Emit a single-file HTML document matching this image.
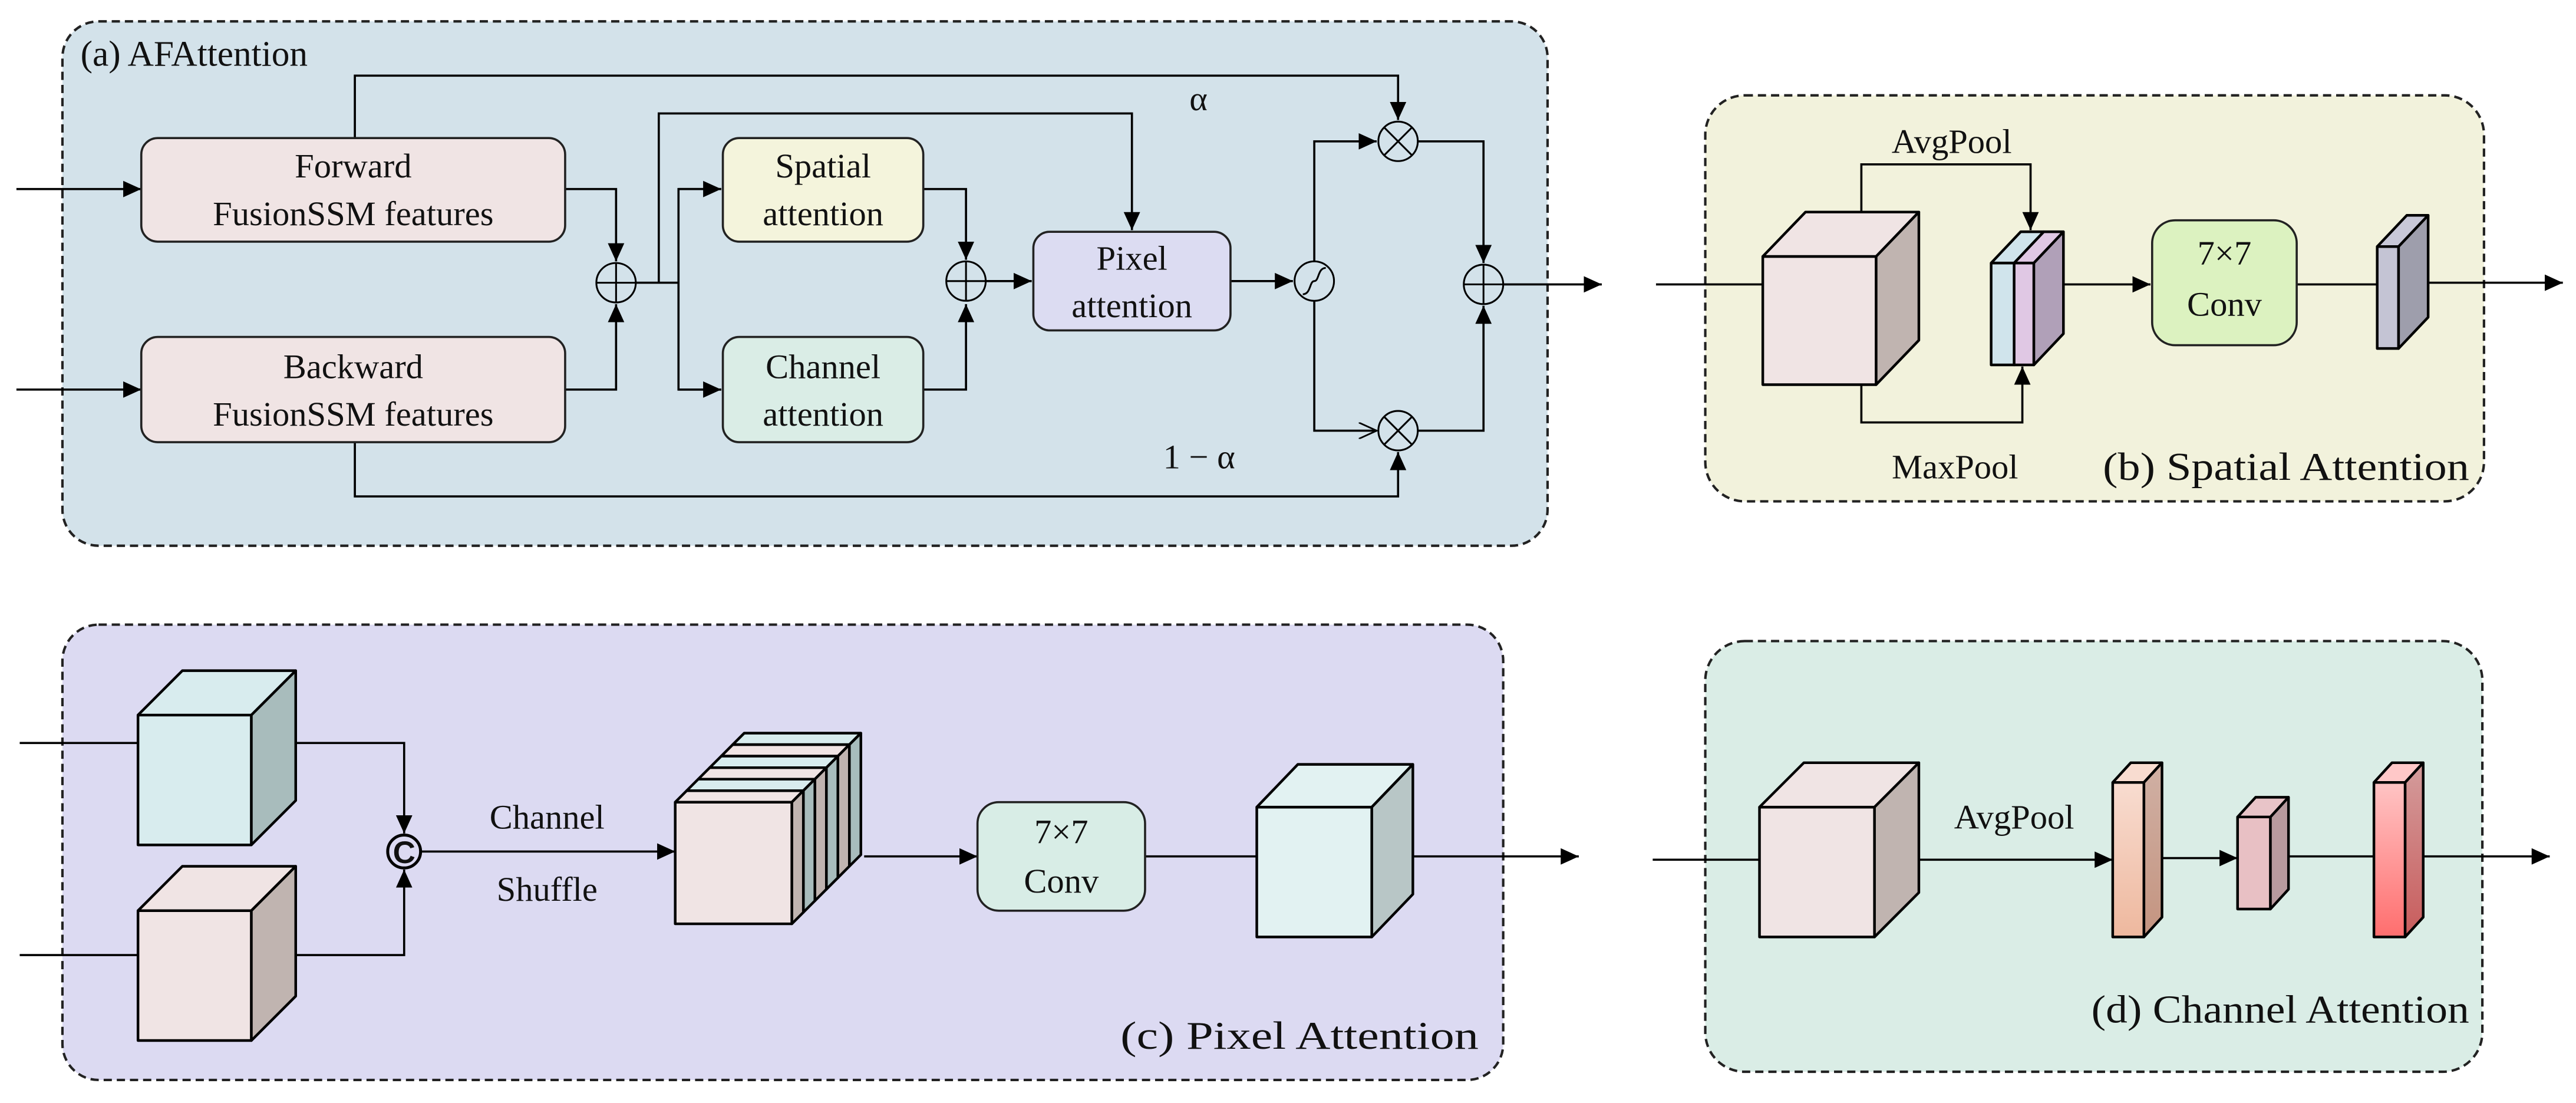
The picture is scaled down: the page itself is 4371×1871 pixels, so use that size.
<!DOCTYPE html>
<html><head><meta charset="utf-8"><style>
html,body{margin:0;padding:0;background:#fff;}
svg{display:block;}
text{font-family:"Liberation Serif","Times New Roman",Times,serif;fill:#111;}
</style></head><body>
<svg width="4371" height="1871" viewBox="0 0 1568 671" preserveAspectRatio="none" xmlns="http://www.w3.org/2000/svg" font-family="Liberation Serif, Times New Roman, serif">
<defs>
<marker id="ar" markerUnits="userSpaceOnUse" markerWidth="12" markerHeight="10" refX="11" refY="5" orient="auto"><path d="M0,0 L11,5 L0,10 Z" fill="#000"/></marker>
<marker id="ao" markerUnits="userSpaceOnUse" markerWidth="12" markerHeight="10" refX="11" refY="5" orient="auto"><path d="M0,0 L11,5 L0,10" fill="none" stroke="#000" stroke-width="1"/></marker>
<linearGradient id="g1" x1="0" y1="0" x2="0" y2="1"><stop offset="0" stop-color="#f8dcd0"/><stop offset="1" stop-color="#eeb89e"/></linearGradient>
<linearGradient id="g1s" x1="0" y1="0" x2="0" y2="1"><stop offset="0" stop-color="#d0b0a4"/><stop offset="1" stop-color="#c49480"/></linearGradient>
<linearGradient id="g3" x1="0" y1="0" x2="0" y2="1"><stop offset="0" stop-color="#ffc4c4"/><stop offset="1" stop-color="#ff6e6e"/></linearGradient>
<linearGradient id="g3s" x1="0" y1="0" x2="0" y2="1"><stop offset="0" stop-color="#d49c9c"/><stop offset="1" stop-color="#c85c5c"/></linearGradient>
</defs>

<!-- Panels -->
<rect x="38" y="13" width="904" height="319" rx="22" fill="#d3e2ea" stroke="#222" stroke-width="1.5" stroke-dasharray="5,3"/>
<rect x="1038" y="58" width="474" height="247" rx="24" fill="#f2f2dc" stroke="#222" stroke-width="1.5" stroke-dasharray="5,3"/>
<rect x="38" y="380" width="877" height="277" rx="22" fill="#dcdaf2" stroke="#222" stroke-width="1.5" stroke-dasharray="5,3"/>
<rect x="1038" y="390" width="473" height="262" rx="24" fill="#daede6" stroke="#222" stroke-width="1.5" stroke-dasharray="5,3"/>

<!-- ===== Panel (a) ===== -->
<text x="49" y="40" font-size="22">(a) AFAttention</text>
<g stroke="#000" stroke-width="1.3" fill="none">
<line x1="10" y1="115" x2="86" y2="115" marker-end="url(#ar)"/>
<line x1="10" y1="237" x2="86" y2="237" marker-end="url(#ar)"/>
<polyline points="344,115 375,115 375,159" marker-end="url(#ar)"/>
<polyline points="344,237 375,237 375,185" marker-end="url(#ar)"/>
<polyline points="216,84 216,46 851,46 851,73" marker-end="url(#ar)"/>
<polyline points="216,269 216,302 851,302 851,275" marker-end="url(#ar)"/>
<line x1="387" y1="172" x2="413" y2="172"/>
<polyline points="401,172 401,69 689,69 689,140" marker-end="url(#ar)"/>
<polyline points="439,115 413,115 413,237 439,237"/>
<line x1="413" y1="115" x2="439" y2="115" marker-end="url(#ar)"/>
<line x1="413" y1="237" x2="439" y2="237" marker-end="url(#ar)"/>
<polyline points="562,115 588,115 588,158" marker-end="url(#ar)"/>
<polyline points="562,237 588,237 588,185" marker-end="url(#ar)"/>
<line x1="600" y1="171" x2="628" y2="171" marker-end="url(#ar)"/>
<line x1="749" y1="171" x2="787" y2="171" marker-end="url(#ar)"/>
<polyline points="800,183 800,262 838,262" marker-end="url(#ao)"/>
<polyline points="800,159 800,86 838,86" marker-end="url(#ar)"/>
<polyline points="863,86 903,86 903,160" marker-end="url(#ar)"/>
<polyline points="863,262 903,262 903,186" marker-end="url(#ar)"/>
<line x1="915" y1="173" x2="975" y2="173" marker-end="url(#ar)"/>
</g>
<rect x="86" y="84" width="258" height="63" rx="10" fill="#f0e4e4" stroke="#222" stroke-width="1.3"/>
<rect x="86" y="205" width="258" height="64" rx="10" fill="#f0e4e4" stroke="#222" stroke-width="1.3"/>
<rect x="440" y="84" width="122" height="63" rx="10" fill="#f4f4dc" stroke="#222" stroke-width="1.3"/>
<rect x="440" y="205" width="122" height="64" rx="10" fill="#daede6" stroke="#222" stroke-width="1.3"/>
<rect x="629" y="141" width="120" height="60" rx="10" fill="#dcdcf2" stroke="#222" stroke-width="1.3"/>
<g font-size="21" text-anchor="middle">
<text x="215" y="108">Forward</text><text x="215" y="137">FusionSSM features</text>
<text x="215" y="230">Backward</text><text x="215" y="259">FusionSSM features</text>
<text x="501" y="108">Spatial</text><text x="501" y="137">attention</text>
<text x="501" y="230">Channel</text><text x="501" y="259">attention</text>
<text x="689" y="164">Pixel</text><text x="689" y="193">attention</text>
</g>
<text x="724" y="67" font-size="21">α</text>
<text x="708" y="285" font-size="21">1 − α</text>
<g stroke="#000" stroke-width="1.1" fill="#d3e2ea">
<circle cx="375" cy="172" r="12"/><path d="M363,172H387M375,160V184"/>
<circle cx="588" cy="171" r="12"/><path d="M576,171H600M588,159V183"/>
<circle cx="903" cy="173" r="12"/><path d="M891,173H915M903,161V185"/>
<circle cx="851" cy="86" r="12"/><path d="M842.5,77.5L859.5,94.5M859.5,77.5L842.5,94.5"/>
<circle cx="851" cy="262" r="12"/><path d="M842.5,253.5L859.5,270.5M859.5,253.5L842.5,270.5"/>
<circle cx="800" cy="171" r="12"/><path d="M793,179 C798,179 797,171 800,171 C803,171 802,163 807,163" fill="none"/>
</g>

<!-- ===== Panel (b) ===== -->
<g stroke="#000" stroke-width="1.3" fill="none">
<line x1="1008" y1="173" x2="1073" y2="173"/>
<polyline points="1133,129 1133,100 1236,100 1236,140" marker-end="url(#ar)"/>
<polyline points="1133,234 1133,257 1231,257 1231,223" marker-end="url(#ar)"/>
<line x1="1256" y1="173" x2="1309" y2="173" marker-end="url(#ar)"/>
<line x1="1398" y1="173" x2="1447" y2="173"/>
<line x1="1478" y1="172" x2="1560" y2="172" marker-end="url(#ar)"/>
</g>
<g stroke="#000" stroke-width="1.6" stroke-linejoin="round">
<rect x="1073" y="156" width="69" height="78" fill="#f0e4e4"/>
<polygon points="1073,156 1099,129 1168,129 1142,156" fill="#f0e4e4"/>
<polygon points="1142,156 1168,129 1168,207 1142,234" fill="#c0b4b0"/>
<rect x="1212" y="160" width="14" height="62" fill="#d0e4ec"/>
<polygon points="1212,160 1230,141 1244,141 1226,160" fill="#d0e4ec"/>
<rect x="1226" y="160" width="12" height="62" fill="#e0c8e4"/>
<polygon points="1226,160 1244,141 1256,141 1238,160" fill="#e0c8e4"/>
<polygon points="1238,160 1256,141 1256,203 1238,222" fill="#b0a0b8"/>
<rect x="1447" y="150" width="13" height="62" fill="#c4c4d4"/>
<polygon points="1447,150 1465,131 1478,131 1460,150" fill="#c8c8d8"/>
<polygon points="1460,150 1478,131 1478,193 1460,212" fill="#9e9eac"/>
</g>
<rect x="1310" y="134" width="88" height="76" rx="14" fill="#dcf2c0" stroke="#222" stroke-width="1.3"/>
<g font-size="21" text-anchor="middle">
<text x="1354" y="161">7×7</text><text x="1354" y="192">Conv</text>
<text x="1188" y="93">AvgPool</text><text x="1190" y="291">MaxPool</text>
</g>
<text x="1280" y="292" font-size="24" textLength="223" lengthAdjust="spacingAndGlyphs">(b) Spatial Attention</text>

<!-- ===== Panel (c) ===== -->
<g stroke="#000" stroke-width="1.3" fill="none">
<line x1="12" y1="452" x2="84" y2="452"/>
<line x1="12" y1="581" x2="84" y2="581"/>
<polyline points="180,452 246,452 246,507" marker-end="url(#ar)"/>
<polyline points="180,581 246,581 246,529" marker-end="url(#ar)"/>
<line x1="256" y1="518" x2="411" y2="518" marker-end="url(#ar)"/>
<line x1="526" y1="521" x2="595" y2="521" marker-end="url(#ar)"/>
<line x1="697" y1="521" x2="765" y2="521"/>
<line x1="860" y1="521" x2="961" y2="521" marker-end="url(#ar)"/>
</g>
<g stroke="#000" stroke-width="1.6" stroke-linejoin="round">
<rect x="84" y="435" width="69" height="79" fill="#d8ecee"/>
<polygon points="84,435 111,408 180,408 153,435" fill="#d8ecee"/>
<polygon points="153,435 180,408 180,487 153,514" fill="#a8bcbc"/>
<rect x="84" y="554" width="69" height="79" fill="#f0e4e4"/>
<polygon points="84,554 111,527 180,527 153,554" fill="#f0e4e4"/>
<polygon points="153,554 180,527 180,606 153,633" fill="#c0b4b0"/>
<g>
<rect x="446" y="453" width="71" height="74" fill="#d8ecee"/><polygon points="446,453 453,446 524,446 517,453" fill="#d8ecee"/><polygon points="517,453 524,446 524,520 517,527" fill="#a8bcbc"/>
<rect x="439" y="460" width="71" height="74" fill="#f0e4e4"/><polygon points="439,460 446,453 517,453 510,460" fill="#f0e4e4"/><polygon points="510,460 517,453 517,527 510,534" fill="#c0b4b0"/>
<rect x="432" y="467" width="71" height="74" fill="#d8ecee"/><polygon points="432,467 439,460 510,460 503,467" fill="#d8ecee"/><polygon points="503,467 510,460 510,534 503,541" fill="#a8bcbc"/>
<rect x="425" y="474" width="71" height="74" fill="#f0e4e4"/><polygon points="425,474 432,467 503,467 496,474" fill="#f0e4e4"/><polygon points="496,474 503,467 503,541 496,548" fill="#c0b4b0"/>
<rect x="418" y="481" width="71" height="74" fill="#d8ecee"/><polygon points="418,481 425,474 496,474 489,481" fill="#d8ecee"/><polygon points="489,481 496,474 496,548 489,555" fill="#a8bcbc"/>
<rect x="411" y="488" width="71" height="74" fill="#f0e4e4"/><polygon points="411,488 418,481 489,481 482,488" fill="#f0e4e4"/><polygon points="482,488 489,481 489,555 482,562" fill="#c0b4b0"/>
</g>
<rect x="765" y="491" width="70" height="79" fill="#e2f2f2"/>
<polygon points="765,491 790,465 860,465 835,491" fill="#e2f2f2"/>
<polygon points="835,491 860,465 860,544 835,570" fill="#b8c6c6"/>
</g>
<circle cx="246" cy="518" r="10" fill="#dcdaf2" stroke="#000" stroke-width="1.8"/>
<text x="246" y="525" font-size="19" font-weight="bold" text-anchor="middle" style="font-family:'Liberation Sans',sans-serif">C</text>
<rect x="595" y="488" width="102" height="66" rx="13" fill="#d8ede6" stroke="#222" stroke-width="1.3"/>
<g font-size="21" text-anchor="middle">
<text x="646" y="513">7×7</text><text x="646" y="543">Conv</text>
<text x="333" y="504">Channel</text><text x="333" y="548">Shuffle</text>
</g>
<text x="900" y="638" font-size="24" text-anchor="end" textLength="218" lengthAdjust="spacingAndGlyphs">(c) Pixel Attention</text>

<!-- ===== Panel (d) ===== -->
<g stroke="#000" stroke-width="1.3" fill="none">
<line x1="1006" y1="523" x2="1071" y2="523"/>
<line x1="1168" y1="523" x2="1286" y2="523" marker-end="url(#ar)"/>
<line x1="1316" y1="522" x2="1362" y2="522" marker-end="url(#ar)"/>
<line x1="1393" y1="521" x2="1445" y2="521"/>
<line x1="1475" y1="521" x2="1552" y2="521" marker-end="url(#ar)"/>
</g>
<g stroke="#000" stroke-width="1.6" stroke-linejoin="round">
<rect x="1071" y="491" width="70" height="79" fill="#f0e4e4"/>
<polygon points="1071,491 1098,464 1168,464 1141,491" fill="#f0e4e4"/>
<polygon points="1141,491 1168,464 1168,543 1141,570" fill="#c0b4b0"/>
<rect x="1286" y="476" width="19" height="94" fill="url(#g1)"/>
<polygon points="1286,476 1297,464 1316,464 1305,476" fill="#f8dcd0"/>
<polygon points="1305,476 1316,464 1316,558 1305,570" fill="url(#g1s)"/>
<rect x="1362" y="497" width="20" height="56" fill="#e8c0c4"/>
<polygon points="1362,497 1373,485 1393,485 1382,497" fill="#e8c4c8"/>
<polygon points="1382,497 1393,485 1393,541 1382,553" fill="#b89a9e"/>
<rect x="1445" y="476" width="19" height="94" fill="url(#g3)"/>
<polygon points="1445,476 1456,464 1475,464 1464,476" fill="#ffc8c8"/>
<polygon points="1464,476 1475,464 1475,558 1464,570" fill="url(#g3s)"/>
</g>
<text x="1226" y="504" font-size="21" text-anchor="middle">AvgPool</text>
<text x="1503" y="622" font-size="24" text-anchor="end" textLength="230" lengthAdjust="spacingAndGlyphs">(d) Channel Attention</text>
</svg>
</body></html>
